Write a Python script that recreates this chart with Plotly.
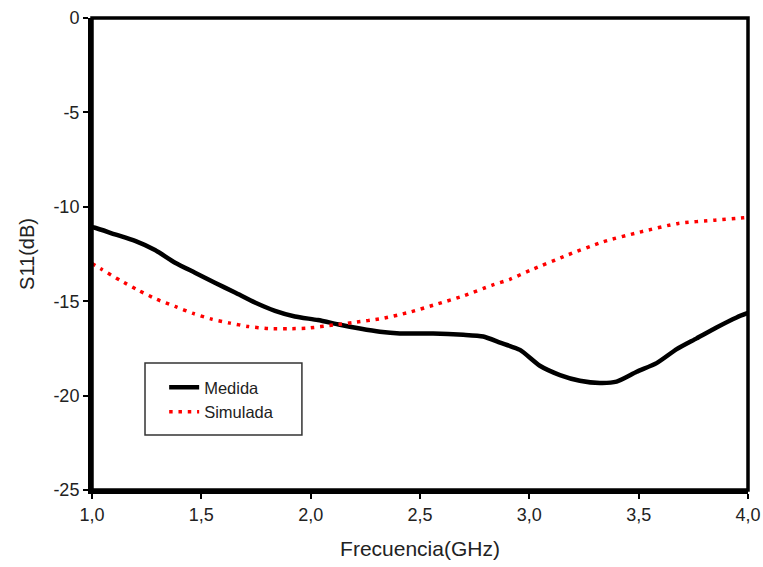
import plotly.graph_objects as go

# Medida (measured)
freq_medida = [1.0, 1.014, 1.105, 1.197, 1.288, 1.380, 1.471, 1.562, 1.654, 1.745, 1.837, 1.928,
               2.033, 2.134, 2.225, 2.317, 2.408, 2.56, 2.698, 2.789, 2.866, 2.957, 3.048, 3.140,
               3.231, 3.323, 3.399, 3.491, 3.582, 3.674, 3.765, 3.856, 3.948, 4.0]
s11_medida = [-11.08, -11.11, -11.46, -11.81, -12.29, -12.96, -13.49, -14.02, -14.54, -15.07, -15.51, -15.81,
              -16.0, -16.25, -16.45, -16.62, -16.71, -16.71, -16.78, -16.87, -17.19, -17.58, -18.42, -18.91,
              -19.21, -19.33, -19.26, -18.74, -18.28, -17.54, -16.97, -16.39, -15.86, -15.62]

# Simulada (simulated)
freq_simulada = [1.0, 1.044, 1.128, 1.212, 1.296, 1.380, 1.463, 1.547, 1.631, 1.715, 1.806, 1.898,
                 1.982, 2.111, 2.195, 2.325, 2.446, 2.576, 2.698, 2.828, 2.911, 3.003, 3.171, 3.338,
                 3.506, 3.681, 3.849, 3.978, 4.0]
s11_simulada = [-13.01, -13.31, -13.89, -14.42, -14.90, -15.28, -15.65, -15.95, -16.16, -16.34, -16.45, -16.46,
                -16.43, -16.25, -16.13, -15.92, -15.6, -15.16, -14.72, -14.16, -13.84, -13.37, -12.57, -11.85,
                -11.34, -10.88, -10.71, -10.58, -10.56]

x_ticks = [1.0, 1.5, 2.0, 2.5, 3.0, 3.5, 4.0]
x_ticklabels = ["1,0", "1,5", "2,0", "2,5", "3,0", "3,5", "4,0"]
y_ticks = [0, -5, -10, -15, -20, -25]
y_ticklabels = ["0", "-5", "-10", "-15", "-20", "-25"]

fig = go.Figure()
fig.add_trace(go.Scatter(x=freq_medida, y=s11_medida, mode="lines", name="Medida",
                         line=dict(color="black", width=4.5, shape="spline", smoothing=0.6)))
fig.add_trace(go.Scatter(x=freq_simulada, y=s11_simulada, mode="lines", name="Simulada",
                         line=dict(color="#ff0000", width=3.5, dash="3.5px,5.8px", shape="spline", smoothing=0.6)))

font_family = "Liberation Sans, Arial, sans-serif"

fig.update_layout(
    width=763, height=567,
    margin=dict(l=92, r=15, t=18, b=77, autoexpand=False),
    paper_bgcolor="white", plot_bgcolor="white",
    font=dict(family=font_family, size=17, color="#222"),
    showlegend=True,
    legend=dict(x=0.11, y=0.254, xanchor="left", yanchor="top",
                borderwidth=0, bgcolor="rgba(0,0,0,0)",
                font=dict(family=font_family, size=16.5, color="#222")),
    xaxis=dict(range=[1.0, 4.0], tickvals=x_ticks, ticktext=x_ticklabels,
               tickfont=dict(size=18, color="#222"),
               showgrid=False, zeroline=False, showline=True, linecolor="black", linewidth=4,
               ticks="outside", ticklen=5, tickwidth=1.5, tickcolor="black",
               title=dict(text="Frecuencia(GHz)", font=dict(size=21, color="#222"), standoff=19)),
    yaxis=dict(range=[-25, 0], tickvals=y_ticks, ticktext=y_ticklabels,
               tickfont=dict(size=18, color="#222"),
               showgrid=False, zeroline=False, showline=True, linecolor="black", linewidth=4,
               ticks="outside", ticklen=5, tickwidth=1.5, tickcolor="black",
               title=dict(text="S11(dB)", font=dict(size=20, color="#222"), standoff=14)),
    shapes=[
        dict(type="rect", xref="paper", yref="paper", x0=0, x1=1, y0=0, y1=1,
             line=dict(color="black", width=3.5), layer="above"),
        dict(type="rect", xref="paper", yref="paper", x0=0.0808, x1=0.320, y0=0.1165, y1=0.269,
             line=dict(color="#333", width=1.5), fillcolor="white", layer="below"),
    ],
)

fig.write_html("out.html", config={"displayModeBar": False},
               post_script="document.body.style.margin='0';")
